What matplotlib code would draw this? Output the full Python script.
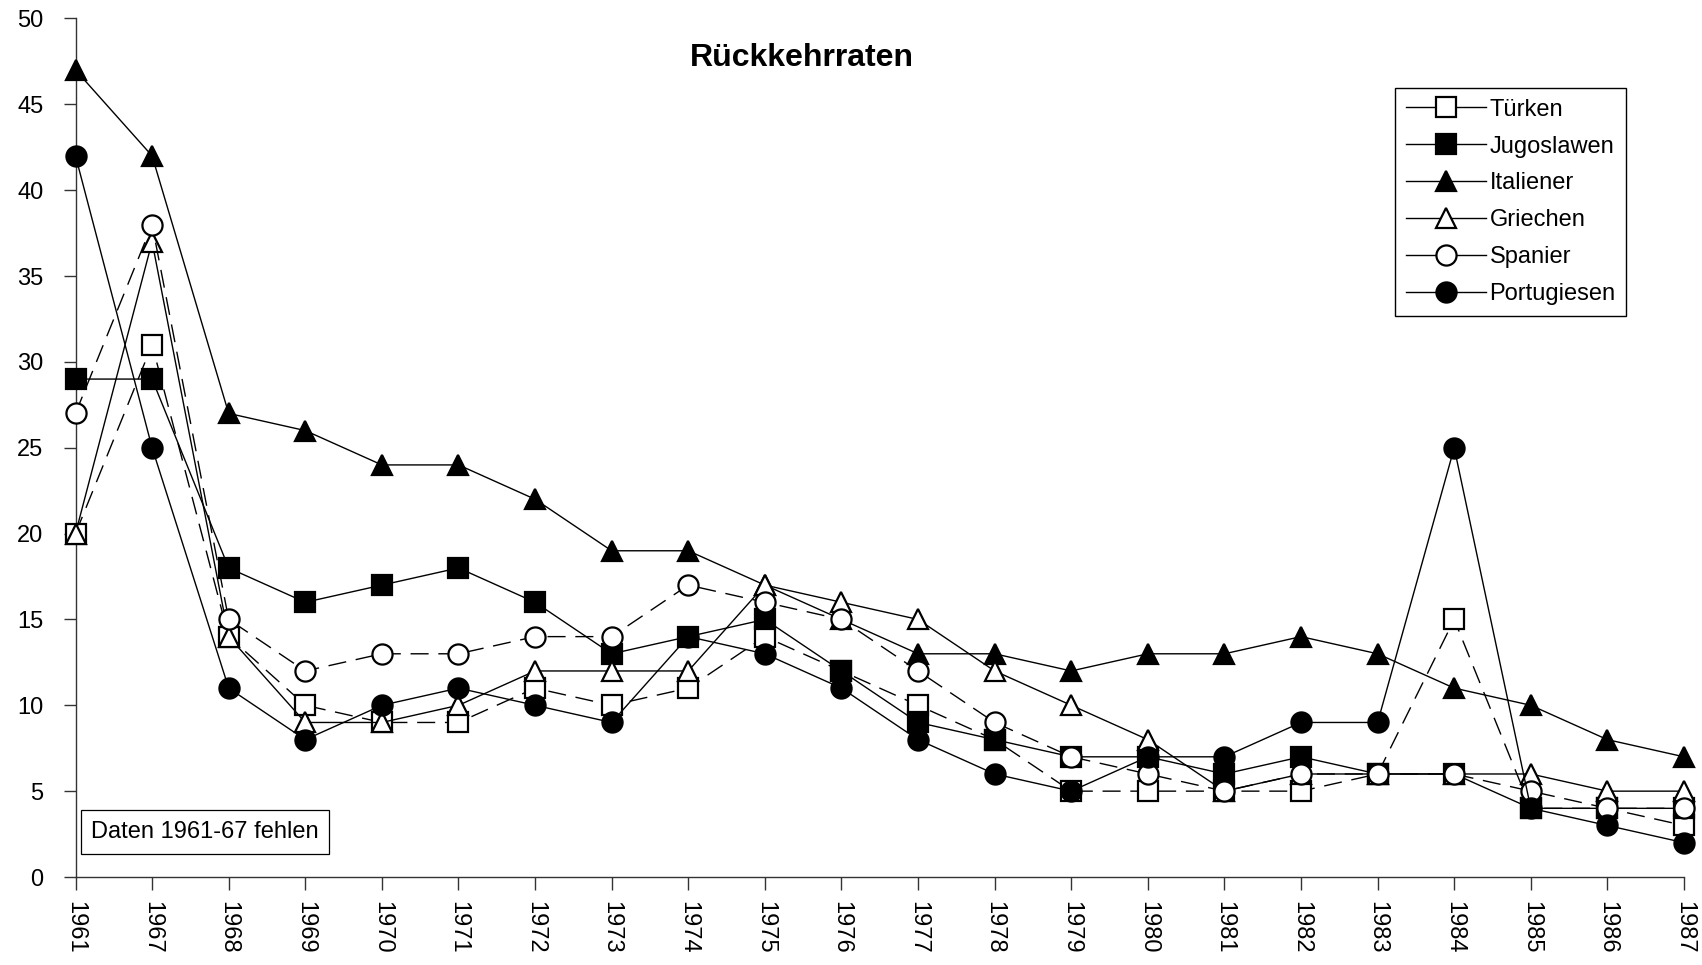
import matplotlib
matplotlib.use("Agg")
import matplotlib.pyplot as plt
from matplotlib.lines import Line2D

plt.rcParams['font.family'] = ['Liberation Sans', 'DejaVu Sans']

# Kategorien (Jahre) und Rückkehrraten je Nationalität
years = ['1961', '1967', '1968', '1969', '1970', '1971', '1972', '1973', '1974',
         '1975', '1976', '1977', '1978', '1979', '1980', '1981', '1982', '1983',
         '1984', '1985', '1986', '1987']
tuerken     = [20, 31, 14, 10, 9, 9, 11, 10, 11, 14, 12, 10, 8, 5, 5, 5, 5, 6, 15, 4, 4, 3]
jugoslawen  = [29, 29, 18, 16, 17, 18, 16, 13, 14, 15, 12, 9, 8, 7, 7, 6, 7, 6, 6, 4, 4, 4]
italiener   = [47, 42, 27, 26, 24, 24, 22, 19, 19, 17, 15, 13, 13, 12, 13, 13, 14, 13, 11, 10, 8, 7]
griechen    = [20, 37, 14, 9, 9, 10, 12, 12, 12, 17, 16, 15, 12, 10, 8, 5, 6, 6, 6, 6, 5, 5]
spanier     = [27, 38, 15, 12, 13, 13, 14, 14, 17, 16, 15, 12, 9, 7, 6, 5, 6, 6, 6, 5, 4, 4]
portugiesen = [42, 25, 11, 8, 10, 11, 10, 9, 14, 13, 11, 8, 6, 5, 7, 7, 9, 9, 25, 4, 3, 2]

series = [
    ('Türken', tuerken, 's', 'white', True),
    ('Jugoslawen', jugoslawen, 's', 'black', False),
    ('Italiener', italiener, '^', 'black', False),
    ('Griechen', griechen, '^', 'white', False),
    ('Spanier', spanier, 'o', 'white', True),
    ('Portugiesen', portugiesen, 'o', 'black', False),
]

W, H = 1702, 965
fig = plt.figure(figsize=(W / 100, H / 100), dpi=100)
left, right, bottom, top = 75.5, 1684, 877, 18.5
ax = fig.add_axes([left / W, 1 - bottom / H, (right - left) / W, (bottom - top) / H])

x = list(range(len(years)))
ms = 14.5
handles = []
for i, (name, vals, mk, fc, dashed) in enumerate(series):
    kw = dict(color='black', lw=1.0, marker=mk, markersize=ms,
              markerfacecolor=fc, markeredgecolor='black', markeredgewidth=1.6,
              zorder=3 + i, clip_on=False)
    line, = ax.plot(x, vals, **kw)
    if dashed:
        line.set_dashes((13, 7))
    handles.append(Line2D([], [], color='black', lw=1.0, marker=mk, markersize=ms,
                          markerfacecolor=fc, markeredgecolor='black',
                          markeredgewidth=1.6, label=name))

ax.set_xlim(0, len(years) - 1)
ax.set_ylim(0, 50)
ax.set_yticks(range(0, 51, 5))
ax.set_xticks(x)
ax.set_xticklabels(years, rotation=-90)
for s in ('top', 'right'):
    ax.spines[s].set_visible(False)
for s in ('left', 'bottom'):
    ax.spines[s].set_color('#333333')
    ax.spines[s].set_linewidth(1.0)
ax.tick_params(axis='both', direction='out', length=9, width=1.0, color='#333333',
               labelsize=17)
ax.tick_params(axis='y', pad=14)
ax.tick_params(axis='x', pad=8)

fig.text(802 / W, 1 - 58 / H, 'Rückkehrraten', ha='center', va='center',
         fontsize=23, fontweight='bold')

fig.text(205 / W, 1 - 832 / H, 'Daten 1961-67 fehlen', ha='center', va='center',
         fontsize=17,
         bbox=dict(boxstyle='square,pad=0.45', facecolor='white', edgecolor='black', lw=0.9))

leg = fig.legend(handles=handles, loc='upper left',
                 bbox_to_anchor=(1395 / W, 1 - 88 / H), bbox_transform=fig.transFigure,
                 borderaxespad=0, fontsize=17, handlelength=3.4, handletextpad=0.15,
                 labelspacing=0.63, borderpad=0.45, fancybox=False, framealpha=1,
                 edgecolor='black')
leg.get_frame().set_linewidth(1.0)

fig.savefig('out.png', dpi=100, facecolor='white')
